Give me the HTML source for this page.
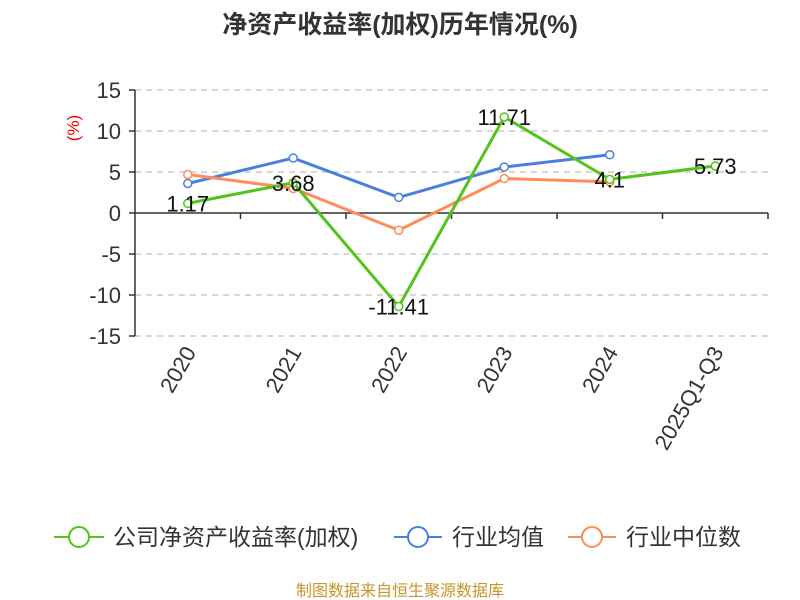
<!DOCTYPE html>
<html><head><meta charset="utf-8"><style>
body{margin:0;background:#fff;}
svg{display:block;font-family:"Liberation Sans","Noto Sans CJK SC",sans-serif;}
</style></head><body>
<svg id="c" width="800" height="600">
<text x="400" y="33" text-anchor="middle" font-size="25" font-weight="bold" fill="#333">净资产收益率(加权)历年情况(%)</text>
<text x="0" y="0" transform="translate(79,128) rotate(-90)" text-anchor="middle" font-size="17" fill="#e00">(%)</text>
<g id="grid"></g><g id="axes"></g><g id="series"></g>
<g font-size="23" fill="#333">
 <g><line x1="54" y1="537" x2="104" y2="537" stroke="#52c41a" stroke-width="2"/><circle cx="79" cy="537" r="10" fill="#fff" stroke="#52c41a" stroke-width="2"/><text x="113" y="545">公司净资产收益率(加权)</text></g>
 <g><line x1="394" y1="537" x2="442" y2="537" stroke="#4a7fe0" stroke-width="2"/><circle cx="418" cy="537" r="10" fill="#fff" stroke="#4a7fe0" stroke-width="2"/><text x="452" y="545">行业均值</text></g>
 <g><line x1="568" y1="537" x2="616" y2="537" stroke="#ff8c5a" stroke-width="2"/><circle cx="592" cy="537" r="10" fill="#fff" stroke="#ff8c5a" stroke-width="2"/><text x="626" y="545">行业中位数</text></g>
</g>
<text x="400" y="596" text-anchor="middle" font-size="16" fill="#c8952a">制图数据来自恒生聚源数据库</text>
</svg>
<script>
const categories=["2020","2021","2022","2023","2024","2025Q1-Q3"];
const companyValues=[1.17,3.68,-11.41,11.71,4.1,5.73];
const industryMean=[3.6,6.7,1.9,5.6,7.1,null];
const industryMedian=[4.7,3.0,-2.1,4.2,3.8,null];
const yTicks=[15,10,5,0,-5,-10,-15];
const NS="http://www.w3.org/2000/svg";
const L=135,R=768,T=90,B=336;
const bw=(R-L)/categories.length;
const xs=i=>L+bw*(i+0.5);
const ys=v=>T+(15-v)/30*(B-T);
function mk(p,tag,a){const e=document.createElementNS(NS,tag);for(const k in a)e.setAttribute(k,a[k]);p.appendChild(e);return e;}
const grid=document.getElementById('grid'),axes=document.getElementById('axes'),ser=document.getElementById('series');
yTicks.forEach(v=>{
 if(v!==0){const g=mk(grid,'line',{x1:L,x2:R,y1:ys(v),y2:ys(v),stroke:'#ccc','stroke-dasharray':'6,5','stroke-width':1.5});
 
 }
 const t=mk(axes,'text',{x:L-14,y:ys(v)+8,'text-anchor':'end','font-size':22,fill:'#333'});t.textContent=v;
 
 
 mk(axes,'line',{x1:L-6,x2:L,y1:ys(v),y2:ys(v),stroke:'#333','stroke-width':1.5});
});
mk(axes,'line',{x1:L,x2:L,y1:T,y2:B,stroke:'#333','stroke-width':1.5});
const xa=mk(axes,'line',{x1:L,x2:R,y1:ys(0),y2:ys(0),stroke:'#333','stroke-width':1.5});


categories.forEach((c,i)=>{
 mk(axes,'line',{x1:L+bw*(i+1),x2:L+bw*(i+1),y1:ys(0),y2:ys(0)+6,stroke:'#333','stroke-width':1.5});
 const t=mk(axes,'text',{x:0,y:0,transform:`translate(${xs(i)+9},${352}) rotate(-60)`,'text-anchor':'end','font-size':22,fill:'#333'});
 t.textContent=c;
 
 
});
function series(vals,color,name,labels){
 const pts=[];vals.forEach((v,i)=>{if(v!==null)pts.push([xs(i),ys(v),v]);});
 const pl=mk(ser,'polyline',{points:pts.map(p=>p[0]+','+p[1]).join(' '),fill:'none',stroke:color,'stroke-width':3});
 
 
 pts.forEach(p=>{const c=mk(ser,'circle',{cx:p[0],cy:p[1],r:4,fill:'#fff',stroke:color,'stroke-width':1.5});
  
  
  if(labels){const t=mk(ser,'text',{x:p[0],y:p[1]+8,'text-anchor':'middle','font-size':22,fill:'#111'});t.textContent=p[2];
  
  }
 });
}
series(industryMean,'#4a7fe0','industry-mean',false);
series(industryMedian,'#ff8c5a','industry-median',false);
series(companyValues,'#52c41a','company-roe',true);
</script>
</body></html>
